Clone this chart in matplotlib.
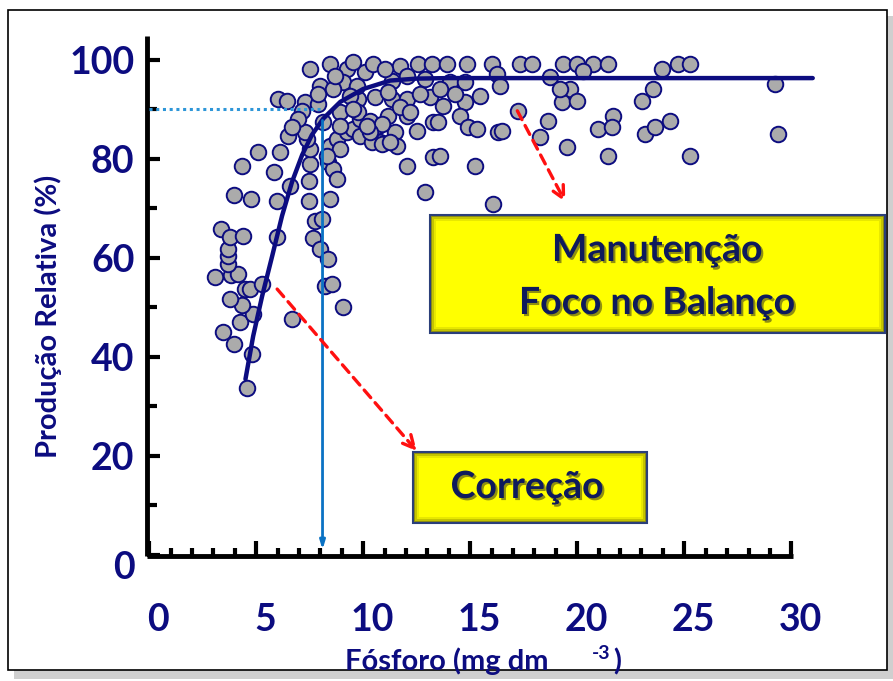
import matplotlib
matplotlib.use("Agg")
import matplotlib.pyplot as plt
import matplotlib.patheffects as pe
from matplotlib.patches import Rectangle
from matplotlib.transforms import ScaledTranslation

# ---- dados ----
fosforo = [4.58, 4.81, 3.97, 3.46, 4.25, 4.86, 4.35, 3.79, 4.49, 4.72, 5.28, 3.08,
           3.83, 4.16, 3.69, 3.69, 3.69, 3.36, 3.79, 4.39, 3.97, 4.77, 4.35, 6.68,
           5.98, 5.84, 5.09, 6.12, 5.98, 6.59, 7.48, 7.48, 8.46, 7.76, 8.08, 7.66,
           7.99, 8.36, 8.22, 8.55, 9.07, 7.52, 8.36, 8.60, 8.79, 7.52, 8.46, 7.38,
           6.50, 8.79, 9.25, 7.29, 8.13, 9.53, 8.93, 7.52, 8.46, 9.25, 9.07, 7.99,
           10.09, 10.47, 6.03, 6.45, 7.29, 7.15, 7.90, 8.93, 9.63, 9.77, 10.56, 11.36,
           12.06, 13.13, 13.74, 11.17, 12.06, 13.27, 9.86, 10.70, 11.50, 11.59, 12.52, 10.79,
           13.27, 12.06, 12.90, 11.73, 12.57, 13.22, 13.93, 14.86, 16.03, 16.26, 9.72, 11.36,
           12.06, 14.07, 14.77, 11.17, 12.66, 14.77, 15.47, 9.86, 13.50, 14.53, 14.91, 15.33,
           16.31, 10.42, 10.89, 15.23, 16.07, 17.34, 17.90, 19.35, 20.00, 20.75, 21.45, 18.74,
           20.28, 19.67, 19.30, 20.00, 17.24, 16.50, 18.64, 18.27, 19.53, 20.98, 21.68, 21.64,
           21.45, 16.40, 19.21, 23.04, 23.18, 23.97, 24.72, 25.28, 23.55, 23.64, 24.35, 25.28,
           29.25, 29.39, 13.60, 9.53, 9.77, 10.33, 10.89, 11.73, 12.20, 11.26, 10.33, 8.60,
           9.39, 9.53, 10.19, 8.93, 8.32, 6.96, 6.68, 7.90, 8.69, 11.03, 12.90, 14.30, 13.60]
producao = [33.7, 40.6, 42.6, 45.1, 47.1, 48.7, 50.5, 51.7, 53.7, 53.7, 54.7, 56.2,
            56.6, 56.8, 58.8, 60.4, 61.8, 65.9, 64.2, 64.4, 72.7, 71.9, 78.6, 47.7,
            64.2, 77.4, 81.4, 81.4, 71.5, 74.5, 75.6, 71.5, 71.9, 67.5, 67.9, 64.0,
            61.8, 59.8, 54.3, 54.7, 50.1, 79.0, 79.4, 78.0, 76.0, 82.0, 82.6, 84.0,
            84.6, 84.0, 85.5, 85.5, 87.5, 86.1, 82.0, 98.2, 99.2, 98.2, 95.6, 94.7,
            97.6, 99.2, 92.1, 91.7, 91.5, 89.7, 91.1, 89.5, 90.7, 92.1, 92.5, 92.1,
            92.1, 92.5, 90.7, 88.7, 88.7, 87.5, 84.6, 86.7, 85.5, 82.6, 85.7, 83.4,
            80.4, 78.6, 73.3, 98.8, 99.2, 99.2, 99.2, 99.2, 99.2, 97.2, 94.7, 95.8,
            96.8, 95.6, 95.6, 93.5, 93.1, 91.5, 92.7, 88.1, 87.5, 88.7, 86.5, 86.1,
            85.5, 83.4, 83.0, 78.6, 70.9, 99.2, 99.2, 99.2, 99.2, 99.2, 99.2, 96.6,
            97.8, 94.1, 91.5, 91.7, 89.7, 85.7, 87.7, 84.4, 82.4, 86.1, 88.7, 86.5,
            80.6, 94.7, 94.1, 91.7, 85.1, 98.2, 99.2, 99.2, 94.1, 86.5, 87.7, 80.6,
            95.2, 85.1, 80.6, 99.6, 89.5, 87.7, 87.1, 90.5, 89.5, 83.4, 85.5, 94.1,
            92.7, 90.1, 86.7, 86.7, 80.6, 88.1, 86.5, 93.1, 96.8, 98.2, 96.2, 93.1, 94.1]

curva_x = [4.5, 4.86, 5.28, 5.75, 6.21, 6.68, 7.15, 7.6, 8.13, 8.93, 10.0, 11.26, 12.5, 14.0, 31.0]
curva_y = [35.5, 44.2, 52.3, 60.4, 68.5, 75.4, 80.8, 84.8, 88.1, 91.5, 94.1, 95.8, 96.2, 96.3, 96.3]

p_critico = 8.1
prod_critica = 90

x_ticks = [0, 5, 10, 15, 20, 25, 30]
y_ticks = [0, 20, 40, 60, 80, 100]

NAVY = '#0C0C80'
W, H = 893, 681

plt.rcParams['font.family'] = ['Lato', 'DejaVu Sans']

fig = plt.figure(figsize=(W / 100, H / 100), dpi=100)

## moldura com sombra
fig.patches.append(Rectangle((14 / W, 1 - 679 / H), 879 / W, 663 / H,
                             transform=fig.transFigure, facecolor='#cfcfcf',
                             edgecolor='none', zorder=-10))
fig.patches.append(Rectangle((8 / W, 1 - 670 / H), 879 / W, 660 / H,
                             transform=fig.transFigure, facecolor='white',
                             edgecolor='black', linewidth=1.2, zorder=-9))

ax = fig.add_axes([147 / W, 1 - 556 / H, 670 / W, 520 / H])
ax.patch.set_visible(False)
ax.set_xlim(-0.1, 31.2)
ax.set_ylim(-0.2, 104.8)

for s in ['top', 'right']:
    ax.spines[s].set_visible(False)
for s in ['left', 'bottom']:
    ax.spines[s].set_linewidth(3.5)
    ax.spines[s].set_capstyle('butt')
ax.spines['bottom'].set_bounds(-0.1, 30.1)

ax.set_xticks(x_ticks)
ax.set_xticks(range(0, 31), minor=True)
ax.set_yticks(y_ticks)
ax.set_yticks(range(10, 100, 20), minor=True)
ax.tick_params(axis='both', which='both', direction='in', width=3, color='black')
ax.tick_params(axis='y', which='major', length=9, pad=9)
ax.tick_params(axis='y', which='minor', length=7)
ax.tick_params(axis='x', which='major', length=11, pad=34)
ax.tick_params(axis='x', which='minor', length=6)
ax.set_xticklabels([str(v) for v in x_ticks], fontsize=27, fontweight='bold', color=NAVY)
ax.set_yticklabels([str(v) for v in y_ticks], fontsize=27, fontweight='bold', color=NAVY)

desl_x = ScaledTranslation(9 / 100, 0, fig.dpi_scale_trans)
for lb in ax.get_xticklabels():
    lb.set_transform(lb.get_transform() + desl_x)
lb0 = ax.get_yticklabels()[0]
lb0.set_transform(lb0.get_transform() + ScaledTranslation(0, -10 / 100, fig.dpi_scale_trans))

## pontos
ax.scatter(fosforo, producao, s=125, facecolor='#ABABAB', edgecolor=NAVY,
           linewidth=1.4, zorder=3, clip_on=False)

## curva ajustada
ax.plot(curva_x, curva_y, color=NAVY, linewidth=3.2, solid_joinstyle='round',
        solid_capstyle='round', zorder=4, clip_on=False)

## nivel critico
ax.plot([0, p_critico], [prod_critica, prod_critica], color='#2E96D8',
        linewidth=2.2, linestyle=(0, (1, 1.2)), zorder=4)
ax.annotate('', xy=(p_critico, 0.5), xytext=(p_critico, 88.3),
            arrowprops=dict(arrowstyle='-|>,head_length=0.5,head_width=0.15',
                            color='#0A72C4', lw=2), zorder=4)

## setas vermelhas
seta = dict(arrowstyle='->,head_length=0.9,head_width=0.45', color='#FF1010',
            lw=2.4, linestyle=(0, (3, 2)), shrinkA=0, shrinkB=0)
ax.annotate('', xy=(12.5, 21.0), xytext=(5.98, 53.7), arrowprops=seta, zorder=5)
ax.annotate('', xy=(19.44, 71.3), xytext=(17.2, 89.7), arrowprops=seta, zorder=5)

## caixas amarelas
def caixa(x0, y0, x1, y1):
    for k, cor in enumerate(['#8E8E12', '#C4C400', '#E8E800', '#FFFF00']):
        d = [0, 2, 4, 6][k]
        fig.patches.append(Rectangle(((x0 + d) / W, 1 - (y1 - d) / H),
                                     (x1 - x0 - 2 * d) / W, (y1 - y0 - 2 * d) / H,
                                     transform=fig.transFigure, facecolor=cor,
                                     edgecolor='none', zorder=5))
    fig.patches.append(Rectangle((x0 / W, 1 - y1 / H), (x1 - x0) / W, (y1 - y0) / H,
                                 transform=fig.transFigure, facecolor='none',
                                 edgecolor='#2B3F7A', linewidth=1.5, zorder=6))

sombra = [pe.withSimplePatchShadow(offset=(1.5, -1.5), shadow_rgbFace='#202020', alpha=0.5)]

caixa(430, 215, 885, 333)
fig.text(657 / W, 1 - 250 / H, 'Manutenção', ha='center', va='center', fontsize=27,
         fontweight='bold', color='#0E1A5C', path_effects=sombra, zorder=7)
fig.text(657 / W, 1 - 303 / H, 'Foco no Balanço', ha='center', va='center', fontsize=27,
         fontweight='bold', color='#0E1A5C', path_effects=sombra, zorder=7)

caixa(413, 452, 647, 523)
fig.text(527 / W, 1 - 487 / H, 'Correção', ha='center', va='center', fontsize=27,
         fontweight='bold', color='#0E1A5C', path_effects=sombra, zorder=7)

## rotulos dos eixos
fig.text(48 / W, 1 - 316 / H, 'Produção Relativa (%)', rotation=90, ha='center',
         va='center', fontsize=21, fontweight='bold', color=NAVY)
fig.text(345 / W, 1 - 670 / H, 'Fósforo (mg dm', ha='left', va='baseline',
         fontsize=21, fontweight='bold', color=NAVY)
fig.text(592 / W, 1 - 659 / H, '-3', ha='left', va='baseline',
         fontsize=14, fontweight='bold', color=NAVY)
fig.text(613 / W, 1 - 670 / H, ')', ha='left', va='baseline',
         fontsize=21, fontweight='bold', color=NAVY)

plt.savefig('out.png', dpi=100)
